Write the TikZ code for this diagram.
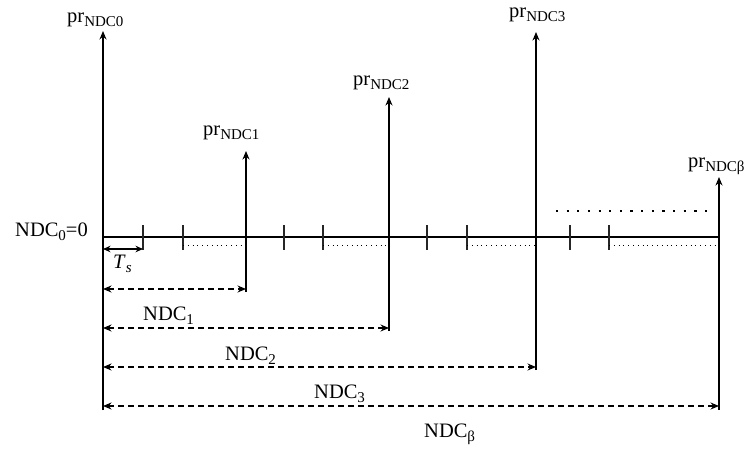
\documentclass[tikz,border=0pt]{standalone}
\usepackage{fontspec}
\setmainfont{Liberation Serif}
\usetikzlibrary{arrows.meta}
% subscript set in a fixed size below the baseline
\newcommand\lowsub[1]{\raisebox{-4.5pt}{\fontsize{15}{16}\selectfont #1}}
\begin{document}
\begin{tikzpicture}[x=1pt,y=-1pt,
  axisline/.style={line width=1.2pt},
  spike/.style={line width=1.2pt,-{Stealth[length=8.5pt,width=7pt]}},
  tickmark/.style={line width=1.2pt,draw=black!85},
  finedots/.style={line width=0.9pt,dash pattern=on 1pt off 3.8pt},
  coarsedots/.style={line width=2.2pt,dash pattern=on 2.2pt off 8.44pt},
  span/.style={line width=1.2pt,dash pattern=on 6pt off 4pt,
    {Stealth[length=8.5pt,width=7pt]}-{Stealth[length=8.5pt,width=7pt]}},
  tsarrow/.style={line width=1.2pt,
    {Stealth[length=7.5pt,width=6.5pt]}-{Stealth[length=7.5pt,width=6.5pt]}},
  lab/.style={font=\fontsize{20.5}{22}\selectfont,inner sep=0pt}
]
\useasboundingbox (0,0) rectangle (750,448);

% points on the time axis
\coordinate (o)  at (103,237);
\coordinate (e)  at (719,237);

% tops of the spikes
\coordinate (t0) at (103,31);
\coordinate (t1) at (246,151);
\coordinate (t2) at (389,97);
\coordinate (t3) at (536,32);
\coordinate (tb) at (719,177);

% bottoms of the vertical guide lines
\coordinate (b0) at (103,410);
\coordinate (b1) at (246,292);
\coordinate (b2) at (389,331);
\coordinate (b3) at (536,370);
\coordinate (bb) at (719,410);

% spike labels
\node[lab,anchor=base west] (l0) at (67,22)  {pr\lowsub{NDC0}};
\node[lab,anchor=base west] (l1) at (203,135) {pr\lowsub{NDC1}};
\node[lab,anchor=base west] (l2) at (353,85)  {pr\lowsub{NDC2}};
\node[lab,anchor=base west] (l3) at (509,17)  {pr\lowsub{NDC3}};
\node[lab,anchor=base west] (lb) at (688,167) {pr\lowsub{NDCβ}};

\node[lab,anchor=base east] (zero) at (88,236) {NDC\lowsub{0}=0};

% axis
\draw[axisline] (o) -- (e);

% spikes with their lower guide lines
\draw[spike] (b0) -- (t0);
\draw[spike] (b1) -- (t1);
\draw[spike] (b2) -- (t2);
\draw[spike] (b3) -- (t3);
\draw[spike] (bb) -- (tb);

% sampling ticks
\foreach \x in {143,183,284,323,427,467,570,609}
  \draw[tickmark] (\x,225) -- (\x,250);

% dotted stretches under the axis
\draw[finedots] (183,245) -- (246,245);
\draw[finedots] (323,245) -- (389,245);
\draw[finedots] (467,245) -- (536,245);
\draw[finedots] (609,245) -- (719,245);

% continuation dots
\draw[coarsedots] (556,211) -- (707,211);

% sampling interval
\coordinate (ts0) at (103,249);
\coordinate (ts1) at (143,249);
\draw[tsarrow] (ts0) -- (ts1);
\node[lab,anchor=base west] (ts) at (113,268) {\textit{T}\lowsub{\textit{s}}};

% spans from the origin
\coordinate (s1a) at (103,289); \coordinate (s1b) at (246,289);
\coordinate (s2a) at (103,328); \coordinate (s2b) at (389,328);
\coordinate (s3a) at (103,367); \coordinate (s3b) at (536,367);
\coordinate (s4a) at (103,406); \coordinate (s4b) at (719,406);
\draw[span] (s1a) -- (s1b);
\draw[span] (s2a) -- (s2b);
\draw[span] (s3a) -- (s3b);
\draw[span] (s4a) -- (s4b);

\node[lab,anchor=base west] (n1) at (143,320) {NDC\lowsub{1}};
\node[lab,anchor=base west] (n2) at (225,360) {NDC\lowsub{2}};
\node[lab,anchor=base west] (n3) at (314,398) {NDC\lowsub{3}};
\node[lab,anchor=base west] (nb) at (424,437) {NDC\lowsub{β}};
\end{tikzpicture}
\end{document}
